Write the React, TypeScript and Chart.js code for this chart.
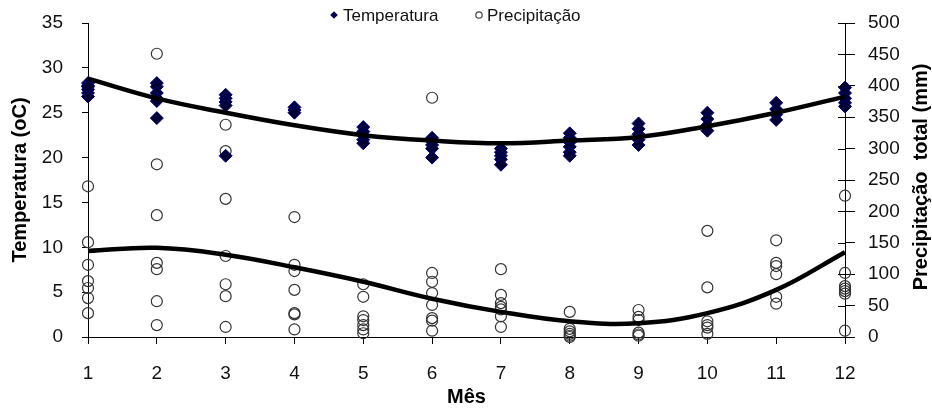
import { useEffect, useRef } from "react";
import { Chart, registerables } from "chart.js";

Chart.register(...registerables);

const months: number[] = [1, 2, 3, 4, 5, 6, 7, 8, 9, 10, 11, 12];

// Temperatura (oC) por mês (vários anos)
const temperatura: number[][] = [
  [28.3, 28.0, 27.6, 27.2, 26.8, 27.9],
  [28.3, 27.9, 27.2, 26.6, 26.3, 24.4],
  [27.0, 26.6, 26.2, 25.8, 20.2],
  [25.6, 25.3, 25.0],
  [23.4, 22.9, 22.5, 22.0, 21.6],
  [22.2, 21.8, 21.4, 21.0, 20.0],
  [21.0, 20.6, 20.2, 19.8, 19.2],
  [22.7, 22.2, 21.7, 21.2, 20.6, 20.2],
  [23.8, 23.2, 22.6, 22.0, 21.4],
  [25.0, 24.3, 23.6, 23.0],
  [26.1, 25.4, 24.8, 24.2],
  [27.8, 27.2, 26.6, 26.1, 25.7],
];

// Precipitação total (mm) por mês (vários anos)
const precipitacao: number[][] = [
  [240, 151, 115, 89, 78, 62, 38],
  [451, 275, 194, 118, 108, 57, 19],
  [338, 296, 220, 129, 84, 65, 16],
  [191, 115, 105, 75, 38, 36, 12],
  [84, 64, 33, 27, 19, 12, 6],
  [381, 102, 88, 70, 51, 30, 26, 10],
  [108, 67, 54, 48, 44, 33, 16],
  [40, 13, 9, 5, 2, 0],
  [43, 32, 27, 7, 4, 2],
  [169, 79, 25, 19, 15, 5],
  [154, 118, 113, 100, 64, 53],
  [225, 102, 81, 77, 73, 69, 10],
];

// Linhas de tendência
const tempTrend: number[] = [28.8, 26.6, 25.0, 23.6, 22.5, 21.9, 21.6, 21.9, 22.3, 23.5, 25.0, 26.8];
const precipTrend: number[] = [137, 142, 131, 111, 88, 61, 40, 25, 22, 38, 75, 135];

const FONT = "'Liberation Sans', Arial, sans-serif";

const legendPlugin = {
  id: "customLegend",
  afterDraw(chart: any) {
    const ctx = chart.ctx;
    ctx.save();
    ctx.font = `17px ${FONT}`;
    ctx.textBaseline = "middle";
    ctx.textAlign = "left";
    // diamond
    const dx = 334, dy = 15, r = 3.8;
    ctx.beginPath();
    ctx.moveTo(dx, dy - r);
    ctx.lineTo(dx + r, dy);
    ctx.lineTo(dx, dy + r);
    ctx.lineTo(dx - r, dy);
    ctx.closePath();
    ctx.fillStyle = "#000050";
    ctx.fill();
    ctx.fillStyle = "#111";
    ctx.fillText("Temperatura", 343, 16);
    // circle
    ctx.beginPath();
    ctx.arc(479, 15, 3.2, 0, Math.PI * 2);
    ctx.strokeStyle = "#444";
    ctx.lineWidth = 1.2;
    ctx.stroke();
    ctx.fillText("Precipitação", 487, 16);
    ctx.restore();
  },
};

const rightAxisPlugin = {
  id: "rightAxisExtras",
  afterDraw(chart: any) {
    const ctx = chart.ctx;
    const s = chart.scales.y2;
    const right = chart.chartArea.right;
    ctx.save();
    ctx.strokeStyle = "#000";
    ctx.lineWidth = 1;
    s.ticks.forEach((t: any) => {
      const y = Math.round(s.getPixelForValue(t.value)) + 0.5;
      ctx.beginPath();
      ctx.moveTo(right - 7, y);
      ctx.lineTo(right, y);
      ctx.stroke();
    });
    ctx.translate(921, 177);
    ctx.rotate(-Math.PI / 2);
    ctx.font = `bold 20px ${FONT}`;
    ctx.textAlign = "center";
    ctx.textBaseline = "middle";
    ctx.fillStyle = "#000";
    ctx.fillText("Precipitação  total (mm)", 0, 0);
    ctx.restore();
  },
};

export default function App() {
  const ref = useRef<HTMLCanvasElement | null>(null);

  useEffect(() => {
    if (!ref.current) return;
    const tempPts = months.flatMap((m, i) => temperatura[i].map((v) => ({ x: m, y: v })));
    const precPts = months.flatMap((m, i) => precipitacao[i].map((v) => ({ x: m, y: v })));
    const tempLine = months.map((m, i) => ({ x: m, y: tempTrend[i] }));
    const precLine = months.map((m, i) => ({ x: m, y: precipTrend[i] }));

    const chart = new Chart(ref.current, {
      type: "scatter",
      data: {
        datasets: [
          {
            label: "Tendência Temperatura",
            data: tempLine,
            yAxisID: "y",
            showLine: true,
            tension: 0.4,
            borderColor: "#000",
            borderWidth: 4.5,
            pointRadius: 0,
            order: 0,
            clip: false,
          } as any,
          {
            label: "Tendência Precipitação",
            data: precLine,
            yAxisID: "y2",
            showLine: true,
            tension: 0.4,
            borderColor: "#000",
            borderWidth: 4.5,
            pointRadius: 0,
            order: 0,
            clip: false,
          } as any,
          {
            label: "Temperatura",
            data: tempPts,
            yAxisID: "y",
            pointStyle: "rectRot",
            pointRadius: 6.5,
            backgroundColor: "#000033",
            borderColor: "#000080",
            borderWidth: 1,
            order: 1,
            clip: false,
          } as any,
          {
            label: "Precipitação",
            data: precPts,
            yAxisID: "y2",
            pointStyle: "circle",
            pointRadius: 5.5,
            backgroundColor: "rgba(255,255,255,0)",
            borderColor: "#333",
            borderWidth: 1.2,
            order: 2,
            clip: false,
          } as any,
        ],
      },
      options: {
        animation: false,
        responsive: false,
        layout: { padding: { top: 23, left: 0, right: 0, bottom: 0 } },
        plugins: {
          legend: { display: false },
          tooltip: { enabled: false },
        },
        scales: {
          x: {
            type: "linear",
            min: 1,
            max: 12,
            ticks: { stepSize: 1, autoSkip: false, padding: 18, color: "#111", font: { size: 19, family: FONT } },
            grid: { drawOnChartArea: false, drawTicks: true, tickLength: 7, color: "#000" },
            border: { display: true, color: "#000", width: 1 },
            title: {
              display: true,
              text: "Mês",
              color: "#000",
              font: { size: 20, weight: "bold", family: FONT },
              padding: { top: 0, bottom: 3 },
            },
            afterFit: (s: any) => {
              s.height = 75;
              s.paddingLeft = 0;
              s.paddingRight = 0;
            },
          },
          y: {
            type: "linear",
            position: "left",
            min: 0,
            max: 35,
            ticks: { stepSize: 5, autoSkip: false, padding: 19, color: "#111", font: { size: 19, family: FONT } },
            grid: { drawOnChartArea: false, drawTicks: true, tickLength: 6, color: "#000" },
            border: { display: true, color: "#000", width: 1 },
            title: {
              display: true,
              text: "Temperatura (oC)",
              color: "#000",
              font: { size: 20, weight: "bold", family: FONT },
              padding: { top: 8, bottom: 0 },
            },
            afterFit: (s: any) => {
              s.width = 88;
              s.paddingTop = 0;
              s.paddingBottom = 0;
            },
          },
          y2: {
            type: "linear",
            position: "right",
            min: 0,
            max: 500,
            ticks: { stepSize: 50, autoSkip: false, padding: 13, color: "#111", font: { size: 19, family: FONT } },
            grid: { drawOnChartArea: false, drawTicks: true, tickLength: 10, color: "#000" },
            border: { display: true, color: "#000", width: 1 },
            title: { display: false },
            afterFit: (s: any) => {
              s.width = 87;
              s.paddingTop = 0;
              s.paddingBottom = 0;
            },
          },
        },
      } as any,
      plugins: [legendPlugin, rightAxisPlugin],
    });
    return () => chart.destroy();
  }, []);

  return (
    <div style={{ position: "absolute", left: 0, top: 0, width: 932, height: 412, background: "#fff" }}>
      <canvas ref={ref} width={932} height={412} style={{ display: "block" }} />
    </div>
  );
}
